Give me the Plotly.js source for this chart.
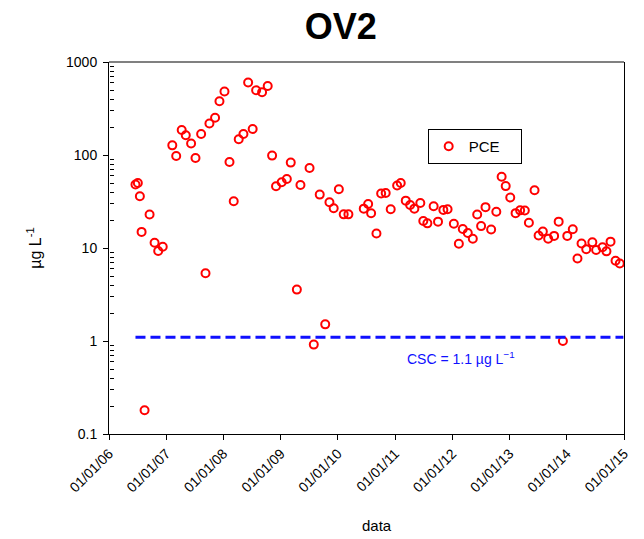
<!DOCTYPE html>
<html>
<head>
<meta charset="utf-8">
<script src="https://cdn.plot.ly/plotly-3.0.1.min.js"></script>
<style>
  html, body { margin: 0; padding: 0; background: #fff; }
  #chart { width: 644px; height: 539px; }
</style>
</head>
<body>
<div id="chart"></div>
<script>
// PCE concentrations at well OV2 (µg/L), sampling dates
const sampleDates = [
  '2006-06-19','2006-07-04','2006-07-17','2006-07-28','2006-08-16','2006-09-17','2006-10-19','2006-11-11','2006-12-10',
  '2007-02-09','2007-03-06','2007-04-10','2007-05-06','2007-06-09','2007-07-07','2007-08-12','2007-09-09','2007-10-04',
  '2007-11-09','2007-12-07','2008-01-08','2008-02-09','2008-03-07','2008-04-08','2008-05-08','2008-06-07','2008-07-06',
  '2008-07-28','2008-09-04','2008-10-10','2008-11-07','2008-12-02','2009-01-07','2009-02-09','2009-03-06','2009-04-14',
  '2009-05-07','2009-07-04','2009-07-31','2009-09-07','2009-10-12','2009-11-08','2009-12-05','2010-01-07','2010-02-07',
  '2010-03-09','2010-06-15','2010-07-13','2010-08-01','2010-09-04','2010-10-04','2010-11-02','2010-12-04','2011-01-14',
  '2011-02-06','2011-03-10','2011-04-07','2011-05-04','2011-06-11','2011-06-30','2011-07-26','2011-09-04','2011-10-02',
  '2011-11-05','2011-12-02','2012-01-11','2012-02-12','2012-03-08','2012-04-09','2012-05-11','2012-06-08','2012-07-03',
  '2012-07-31','2012-09-05','2012-10-08','2012-11-11','2012-12-07','2013-01-05','2013-02-08','2013-03-09','2013-04-08',
  '2013-05-04','2013-06-09','2013-07-05','2013-08-01','2013-09-04','2013-10-12','2013-11-10','2013-12-07','2014-01-04',
  '2014-02-08','2014-03-10','2014-04-05','2014-05-05','2014-06-13','2014-07-07','2014-08-17','2014-09-11','2014-10-07',
  '2014-11-08','2014-12-05'
];
const pceValues = [
  48.1, 50.0, 36.0, 14.9, 0.18, 22.9, 11.4, 9.3, 10.3,
  127, 97.6, 186, 163, 133, 92.9, 168, 5.35, 218,
  252, 378, 481, 84.1, 31.8, 148, 168, 601, 190,
  496, 472, 552, 98.5, 46.1, 50.9, 55.2, 82.8, 3.57,
  47.6, 72.5, 0.915, 37.5, 1.51, 31.0, 26.7, 42.8, 23.0,
  23.0, 26.5, 29.7, 23.6, 14.3, 38.5, 39.0, 26.1, 46.9,
  50.0, 32.3, 29.0, 26.5, 30.5, 19.5, 18.4, 28.1, 19.2,
  25.7, 26.1, 18.2, 11.1, 16.0, 14.5, 12.6, 22.9, 17.2,
  27.5, 15.8, 24.5, 58.3, 46.3, 34.9, 23.7, 25.4, 25.3,
  18.7, 41.7, 13.6, 15.0, 12.6, 13.5, 19.2, 1.0, 13.5,
  15.9, 7.7, 11.2, 9.7, 11.5, 9.5, 10.2, 9.2, 11.7,
  7.3, 6.8
];

// Screening concentration (CSC) reference line
const cscValue = 1.1;
const cscDates = ['2006-06-19', '2014-12-28'];

// Axis ticks
const yearTicks = ['2006-01-01','2007-01-01','2008-01-01','2009-01-01','2010-01-01',
                   '2011-01-01','2012-01-01','2013-01-01','2014-01-01','2015-01-01'];
const decades = [0.1, 1, 10, 100];
const mantissas = [2, 3, 4, 5, 6, 7, 8, 9];
// minor log ticks: 2..9 within each decade
const minorTickVals = [];
decades.forEach(d => mantissas.forEach(m => minorTickVals.push(+(d * m).toPrecision(3))));

const FONT = 'Liberation Sans, Arial, sans-serif';

const traces = [
  {
    // drawn against the twin log axis that carries the minor ticks (same range)
    x: cscDates,
    y: cscDates.map(() => cscValue),
    yaxis: 'y2',
    type: 'scatter',
    mode: 'lines',
    line: { color: '#1010ff', width: 3, dash: '10px,5px' },
    showlegend: false,
    hoverinfo: 'skip'
  },
  {
    x: sampleDates,
    y: pceValues,
    type: 'scatter',
    mode: 'markers',
    name: 'PCE',
    marker: {
      symbol: 'circle-open',
      size: 8,
      color: '#ff0000',
      line: { color: '#ff0000', width: 2 }
    }
  }
];

const layout = {
  width: 644,
  height: 539,
  margin: { l: 109, r: 20, t: 62, b: 105 },
  paper_bgcolor: '#ffffff',
  plot_bgcolor: '#ffffff',
  font: { family: FONT, color: '#000000', size: 14 },
  title: {
    text: '<b>OV2</b>',
    font: { family: FONT, size: 36, color: '#000000' },
    xref: 'container', x: 0.529, xanchor: 'center',
    yref: 'container', y: 1 - 26 / 539, yanchor: 'middle'
  },
  xaxis: {
    type: 'date',
    range: ['2006-01-01', '2015-01-01'],
    tickmode: 'array',
    tickvals: yearTicks,
    tickformat: '%d/%m/%y',
    tickangle: -45,
    ticks: 'outside',
    ticklen: 5,
    tickcolor: '#000000',
    tickfont: { family: FONT, size: 14, color: '#000000' },
    showline: true,
    linecolor: '#000000',
    linewidth: 1,
    showgrid: false,
    zeroline: false
  },
  yaxis: {
    type: 'log',
    range: [-1, 3],
    tick0: 0,
    dtick: 1,
    exponentformat: 'none',
    ticks: 'outside',
    ticklen: 5,
    tickcolor: '#000000',
    ticklabelstandoff: 3,
    tickfont: { family: FONT, size: 14, color: '#000000' },
    showline: true,
    linecolor: '#000000',
    linewidth: 1,
    mirror: true,
    showgrid: false,
    zeroline: false,
    title: {
      text: 'µg L<sup>-1</sup>',
      font: { family: FONT, size: 16, color: '#000000' },
      standoff: 20
    }
  },
  // minor ticks: a right-sided twin axis pinned to the left edge,
  // so its outward ticks point into the plot area
  yaxis2: {
    type: 'log',
    range: [-1, 3],
    overlaying: 'y',
    side: 'right',
    anchor: 'free',
    position: 0,
    tickmode: 'array',
    tickvals: minorTickVals,
    ticks: 'outside',
    ticklen: 4,
    tickwidth: 1,
    tickcolor: '#000000',
    showticklabels: false,
    showline: false,
    showgrid: false,
    zeroline: false
  },
  showlegend: true,
  legend: {
    orientation: 'h',
    x: (428 - 109) / 515.5,
    y: (434 - 129) / 372,
    xanchor: 'left',
    yanchor: 'top',
    entrywidth: 47,
    entrywidthmode: 'pixels',
    bgcolor: '#ffffff',
    bordercolor: '#000000',
    borderwidth: 1,
    font: { family: FONT, size: 15, color: '#000000' }
  },
  shapes: [
    {
      type: 'line', xref: 'paper', yref: 'paper',
      x0: 0, x1: 1, y0: 1, y1: 1,
      line: { color: '#808080', width: 2 }
    }
  ],
  annotations: [
    {
      text: 'CSC = 1.1 µg L<sup>−1</sup>',
      xref: 'paper', yref: 'paper',
      x: (461 - 109) / 515.5, y: (434 - 358) / 372,
      xanchor: 'center', yanchor: 'middle',
      showarrow: false,
      font: { family: FONT, size: 14, color: '#1010ff' }
    },
    {
      text: 'data',
      xref: 'paper', yref: 'paper',
      x: (377 - 109) / 515.5, y: 0,
      yshift: -91,
      xanchor: 'center', yanchor: 'middle',
      showarrow: false,
      font: { family: FONT, size: 15, color: '#000000' }
    }
  ]
};

Plotly.newPlot('chart', traces, layout, { displayModeBar: false, staticPlot: true });
</script>
</body>
</html>
